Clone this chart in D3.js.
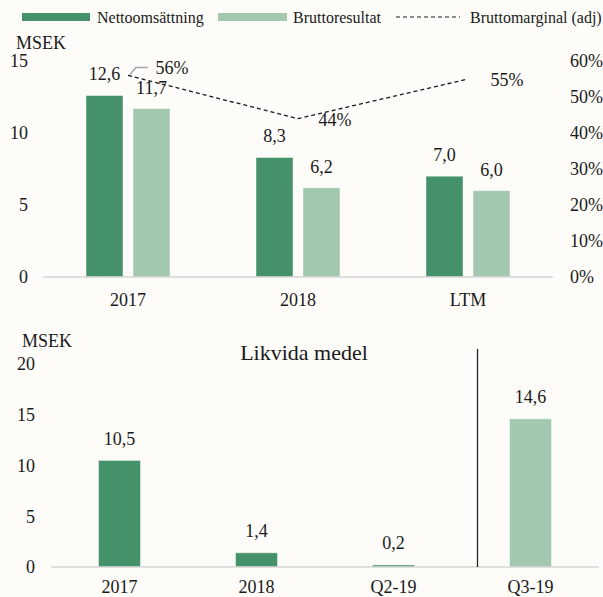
<!DOCTYPE html>
<html>
<head>
<meta charset="utf-8">
<script src="https://cdn.jsdelivr.net/npm/d3@7"></script>
<style>
  html, body { margin: 0; padding: 0; background: #fdfcf9; }
  svg { display: block; }
  svg text { font-family: "Liberation Serif", Tinos, "DejaVu Serif", serif !important; fill: #1a1a1a; }
</style>
</head>
<body>
<svg id="chart" width="603" height="597"></svg>
<script>
// ---- Data: top chart ----
const topCategories = ["2017", "2018", "LTM"];
const nettoomsattning = [12.6, 8.3, 7.0];
const bruttoresultat = [11.7, 6.2, 6.0];
const bruttomarginal = [0.56, 0.44, 0.55];
const topLeftTicks = [0, 5, 10, 15];
const topRightTicks = [0, 0.1, 0.2, 0.3, 0.4, 0.5, 0.6];
const seriesNames = ["Nettoomsättning", "Bruttoresultat", "Bruttomarginal (adj)"];

// ---- Data: bottom chart ----
const bottomCategories = ["2017", "2018", "Q2-19", "Q3-19"];
const likvidaMedel = [10.5, 1.4, 0.2, 14.6];
const bottomTicks = [0, 5, 10, 15, 20];
const bottomTitle = "Likvida medel";
const unitLabel = "MSEK";

const DARK = "#45916a";
const LIGHT = "#a2c8af";
const FONT = "'Liberation Serif', Tinos, 'DejaVu Serif', serif";
const fmt = v => d3.format(".1f")(v).replace(".", ",");
const pct = v => Math.round(v * 100) + "%";

const svg = d3.select("#chart").attr("font-family", FONT);

// ---------- Legend ----------
const lg = svg.append("g");
lg.append("rect").attr("x", 22).attr("y", 13).attr("width", 68).attr("height", 8).attr("fill", DARK);
lg.append("text").attr("x", 97).attr("y", 17).attr("dy", "0.35em").style("font-size", "16px").text(seriesNames[0]);
lg.append("rect").attr("x", 218).attr("y", 13).attr("width", 69).attr("height", 8).attr("fill", LIGHT);
lg.append("text").attr("x", 293).attr("y", 17).attr("dy", "0.35em").style("font-size", "16px").text(seriesNames[1]);
lg.append("line").attr("x1", 396).attr("x2", 460).attr("y1", 17).attr("y2", 17)
  .attr("stroke", "#1a1a1a").attr("stroke-width", 1.2).attr("stroke-dasharray", "4,3");
lg.append("text").attr("x", 470).attr("y", 17).attr("dy", "0.35em").style("font-size", "16px").text(seriesNames[2]);

// ---------- Top chart ----------
const tx = d3.scaleBand().domain(topCategories).range([43, 553]);
const tyL = d3.scaleLinear().domain([0, 15]).range([277, 61]);
const tyR = d3.scaleLinear().domain([0, 0.6]).range([277, 61]);
const barW = 37;

const topG = svg.append("g");
topG.append("text").attr("x", 16).attr("y", 43).attr("dy", "0.35em").style("font-size", "18px").text(unitLabel);

const leftAxis = topG.append("g").attr("transform", "translate(28,0)")
  .call(d3.axisLeft(tyL).tickValues(topLeftTicks).tickSize(0).tickPadding(0).tickFormat(d3.format("d")));
leftAxis.attr("font-family", FONT);
leftAxis.select(".domain").remove();
leftAxis.selectAll("text").style("font-size", "18px").attr("fill", null);

const rightAxis = topG.append("g").attr("transform", "translate(570,0)")
  .call(d3.axisRight(tyR).tickValues(topRightTicks).tickSize(0).tickPadding(0).tickFormat(pct));
rightAxis.attr("font-family", FONT);
rightAxis.select(".domain").remove();
rightAxis.selectAll("text").style("font-size", "18px").attr("fill", null);

const cx = c => tx(c) + tx.bandwidth() / 2;

topG.selectAll(".bn").data(topCategories).join("rect")
  .attr("x", c => cx(c) - 5 - barW).attr("width", barW)
  .attr("y", (c, i) => tyL(nettoomsattning[i])).attr("height", (c, i) => tyL(0) - tyL(nettoomsattning[i]))
  .attr("fill", DARK).attr("stroke", "#ffffff").attr("stroke-opacity", 0.45).attr("stroke-width", 1);
topG.selectAll(".bb").data(topCategories).join("rect")
  .attr("x", c => cx(c) + 5).attr("width", barW)
  .attr("y", (c, i) => tyL(bruttoresultat[i])).attr("height", (c, i) => tyL(0) - tyL(bruttoresultat[i]))
  .attr("fill", LIGHT).attr("stroke", "#ffffff").attr("stroke-opacity", 0.45).attr("stroke-width", 1);

topG.append("line").attr("x1", 43).attr("x2", 553).attr("y1", tyL(0)).attr("y2", tyL(0))
  .attr("stroke", "#d6d6d6").attr("stroke-width", 1.5);

// value labels
topG.selectAll(".ln").data(topCategories).join("text")
  .attr("x", c => cx(c) - 5 - barW / 2).attr("y", (c, i) => tyL(nettoomsattning[i]) - 22)
  .attr("dy", "0.35em").attr("text-anchor", "middle").style("font-size", "18px")
  .text((c, i) => fmt(nettoomsattning[i]));
topG.selectAll(".lb").data(topCategories).join("text")
  .attr("x", c => cx(c) + 5 + barW / 2).attr("y", (c, i) => tyL(bruttoresultat[i]) - 21)
  .attr("dy", "0.35em").attr("text-anchor", "middle").style("font-size", "18px")
  .text((c, i) => fmt(bruttoresultat[i]));

// margin line
const line = d3.line().x((d, i) => cx(topCategories[i])).y(d => tyR(d));
topG.append("path").datum(bruttomarginal).attr("d", line)
  .attr("fill", "none").attr("stroke", "#1a1a1a").attr("stroke-width", 1.3).attr("stroke-dasharray", "4,3");

// margin labels
const mOff = [[44, -8], [37, 1], [39, 1]];
bruttomarginal.forEach((m, i) => {
  const px = cx(topCategories[i]), py = tyR(m);
  topG.append("text").attr("x", px + mOff[i][0]).attr("y", py + mOff[i][1])
    .attr("dy", "0.35em").attr("text-anchor", "middle").style("font-size", "18px").text(pct(m));
  if (i === 0) {
    topG.append("path")
      .attr("d", `M${px + 2},${py - 1}L${px + 8},${py - 8}L${px + 20},${py - 8}`)
      .attr("fill", "none").attr("stroke", "#a6a6a6").attr("stroke-width", 1.5);
  }
});

// category labels
topG.selectAll(".cl").data(topCategories).join("text")
  .attr("x", c => cx(c)).attr("y", 300).attr("dy", "0.35em")
  .attr("text-anchor", "middle").style("font-size", "18px").text(c => c);

// ---------- Bottom chart ----------
const bx = d3.scaleBand().domain(bottomCategories).range([51, 599]);
const by = d3.scaleLinear().domain([0, 20]).range([567, 364]);
const bBarW = 42;
const bcx = c => bx(c) + bx.bandwidth() / 2;

const bot = svg.append("g");
bot.append("text").attr("x", 22).attr("y", 341).attr("dy", "0.35em").style("font-size", "18px").text(unitLabel);
bot.append("text").attr("x", 304).attr("y", 352).attr("dy", "0.35em").attr("text-anchor", "middle")
  .style("font-size", "22px").text(bottomTitle);

const bAxis = bot.append("g").attr("transform", "translate(35,0)")
  .call(d3.axisLeft(by).tickValues(bottomTicks).tickSize(0).tickPadding(0).tickFormat(d3.format("d")));
bAxis.attr("font-family", FONT);
bAxis.select(".domain").remove();
bAxis.selectAll("text").style("font-size", "18px").attr("fill", null);

bot.selectAll(".bbar").data(bottomCategories).join("rect")
  .attr("x", c => bcx(c) - bBarW / 2).attr("width", bBarW)
  .attr("y", (c, i) => by(likvidaMedel[i])).attr("height", (c, i) => by(0) - by(likvidaMedel[i]))
  .attr("fill", (c, i) => i === bottomCategories.length - 1 ? LIGHT : DARK)
  .attr("stroke", "#ffffff").attr("stroke-opacity", 0.45).attr("stroke-width", 1);

bot.append("line").attr("x1", 51).attr("x2", 599).attr("y1", by(0)).attr("y2", by(0))
  .attr("stroke", "#d6d6d6").attr("stroke-width", 1.5);

// separator line
const sepX = bcx("Q3-19") - 53;
bot.append("line").attr("x1", sepX).attr("x2", sepX).attr("y1", 349).attr("y2", by(0))
  .attr("stroke", "#262626").attr("stroke-width", 1.3);

bot.selectAll(".bl").data(bottomCategories).join("text")
  .attr("x", c => bcx(c)).attr("y", (c, i) => by(likvidaMedel[i]) - 22)
  .attr("dy", "0.35em").attr("text-anchor", "middle").style("font-size", "18px")
  .text((c, i) => fmt(likvidaMedel[i]));

bot.selectAll(".bc").data(bottomCategories).join("text")
  .attr("x", c => bcx(c)).attr("y", 587).attr("dy", "0.35em")
  .attr("text-anchor", "middle").style("font-size", "18px").text(c => c);
</script>
</body>
</html>
